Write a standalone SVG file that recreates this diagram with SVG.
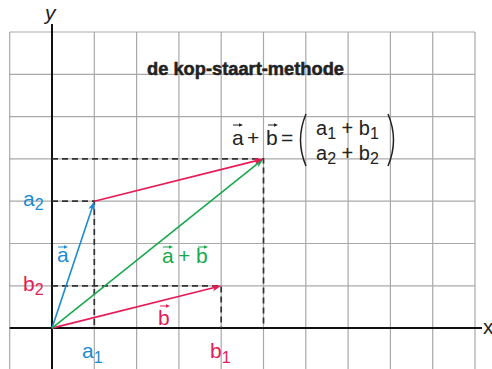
<svg xmlns="http://www.w3.org/2000/svg" width="492" height="369" viewBox="0 0 492 369">
<style>
.grid{stroke:#a9a9a9;stroke-width:1.2;fill:none}
.axis{stroke:#111;stroke-width:2;fill:none}
.dash{stroke:#333;stroke-width:1.7;stroke-dasharray:6 4;fill:none}
.vec{stroke-width:1.6;fill:none}
.t{font-family:"Liberation Sans",Arial,sans-serif;font-weight:400;font-size:21px}
.f{font-size:20px}
.sub{font-size:16px}
.blue{fill:#1c8bd0;stroke:#1c8bd0}
.red{fill:#e61a55;stroke:#e61a55}
.green{fill:#18a84c;stroke:#18a84c}
.dark{fill:#222;stroke:#222}
text.t{stroke:none}
path.vec,path.ar{fill:none}
.ar{stroke-width:1}
</style>
<defs>
<marker id="hb" markerUnits="userSpaceOnUse" viewBox="-4 -4 11 8" refX="0" refY="0" markerWidth="11" markerHeight="8" orient="auto"><path d="M6,0 L-3,-3.2 L-1,0 L-3,3.2 Z" fill="#1c8bd0"/></marker>
<marker id="hr" markerUnits="userSpaceOnUse" viewBox="-4 -4 11 8" refX="0" refY="0" markerWidth="11" markerHeight="8" orient="auto"><path d="M6,0 L-3,-3.2 L-1,0 L-3,3.2 Z" fill="#e61a55"/></marker>
<marker id="hg" markerUnits="userSpaceOnUse" viewBox="-4 -4 11 8" refX="0" refY="0" markerWidth="11" markerHeight="8" orient="auto"><path d="M6,0 L-3,-3.2 L-1,0 L-3,3.2 Z" fill="#18a84c"/></marker>
<marker id="sb" markerUnits="userSpaceOnUse" viewBox="-3 -3 6 6" refX="0" refY="0" markerWidth="6" markerHeight="6" orient="auto"><path d="M2,0 L-2,-1.8 L-2,1.8 Z" fill="#1c8bd0"/></marker>
<marker id="sr" markerUnits="userSpaceOnUse" viewBox="-3 -3 6 6" refX="0" refY="0" markerWidth="6" markerHeight="6" orient="auto"><path d="M2,0 L-2,-1.8 L-2,1.8 Z" fill="#e61a55"/></marker>
<marker id="sg" markerUnits="userSpaceOnUse" viewBox="-3 -3 6 6" refX="0" refY="0" markerWidth="6" markerHeight="6" orient="auto"><path d="M2,0 L-2,-1.8 L-2,1.8 Z" fill="#18a84c"/></marker>
<marker id="sd" markerUnits="userSpaceOnUse" viewBox="-3 -3 6 6" refX="0" refY="0" markerWidth="6" markerHeight="6" orient="auto"><path d="M2,0 L-2,-1.8 L-2,1.8 Z" fill="#222"/></marker>
</defs>
<rect width="492" height="369" fill="#fff"/>
<g id="grid" class="grid">
<path d="M9.7,32V369M94.3,32V369M136.6,32V369M178.9,32V369M221.2,32V369M263.5,32V369M305.8,32V369M348.1,32V369M390.4,32V369M432.7,32V369M475,32V369"/>
<path d="M9.7,32H475M9.7,74.3H475M9.7,116.6H475M9.7,158.9H475M9.7,201.2H475M9.7,243.5H475M9.7,285.8H475"/>
</g>
<g id="axes" class="axis">
<path d="M52,24V369"/>
<path d="M9.7,328.1H482"/>
</g>
<text class="t" x="45" y="20" font-size="18" font-style="italic" fill="#222">y</text>
<text class="t" x="483" y="334" font-size="17" fill="#222">x</text>
<g id="title"><text x="147" y="75" font-family="'Liberation Sans',Arial,sans-serif" font-weight="bold" font-size="18" textLength="197" lengthAdjust="spacingAndGlyphs" fill="#222" stroke="#222" stroke-width="0.5">de kop-staart-methode</text></g>
<g id="connectors">
<path class="dash" d="M52,201.2H94.3V328.1"/>
<path class="dash" d="M52,285.8H221.2V328.1"/>
<path class="dash" d="M52,158.9H263.5V328.1"/>
<path class="vec blue" d="M52,328.1L92.4,206.9" marker-end="url(#hb)"/>
<path class="vec red" d="M52,328.1L215.4,287.3" marker-end="url(#hr)"/>
<path class="vec green" d="M52,328.1L258.8,162.6" marker-end="url(#hg)"/>
<path class="vec red" d="M94.3,201.2L257.7,160.4" marker-end="url(#hr)"/>
</g>
<g id="labels">
<text class="t blue" x="23" y="206">a<tspan class="sub" dy="4">2</tspan></text>
<text class="t red" x="23" y="291">b<tspan class="sub" dy="4">2</tspan></text>
<text class="t blue" x="82" y="358">a<tspan class="sub" dy="5">1</tspan></text>
<text class="t red" x="210" y="358">b<tspan class="sub" dy="5">1</tspan></text>
</g>
<g id="vector-a">
<text class="t blue" x="57" y="262">a</text>
<path class="ar blue" d="M58,247H66" marker-end="url(#sb)"/>
</g>
<g id="vector-b">
<text class="t red" x="158" y="325">b</text>
<path class="ar red" d="M160,306H168" marker-end="url(#sr)"/>
</g>
<g id="vector-sum">
<text class="t green" x="162" y="263">a</text>
<text class="t green" x="178" y="263">+</text>
<text class="t green" x="196" y="263">b</text>
<path class="ar green" d="M163,247H171" marker-end="url(#sg)"/>
<path class="ar green" d="M198,247H206" marker-end="url(#sg)"/>
</g>
<g id="formula">
<text class="t dark" x="232" y="145">a</text>
<text class="t dark" x="247" y="145">+</text>
<text class="t dark" x="266" y="145">b</text>
<text class="t dark" x="281" y="145">=</text>
<path class="ar dark" d="M233,125H241" marker-end="url(#sd)"/>
<path class="ar dark" d="M268,125H276" marker-end="url(#sd)"/>
<path d="M306,114Q295,140 306,166" fill="none" stroke="#222" stroke-width="1.5"/>
<path d="M388,114Q399,140 388,166" fill="none" stroke="#222" stroke-width="1.5"/>
<text class="t f dark" x="316" y="135">a<tspan class="sub" dy="4">1</tspan><tspan dy="-4"> + b</tspan><tspan class="sub" dy="4">1</tspan></text>
<text class="t f dark" x="316" y="160">a<tspan class="sub" dy="4">2</tspan><tspan dy="-4"> + b</tspan><tspan class="sub" dy="4">2</tspan></text>
</g>
</svg>
